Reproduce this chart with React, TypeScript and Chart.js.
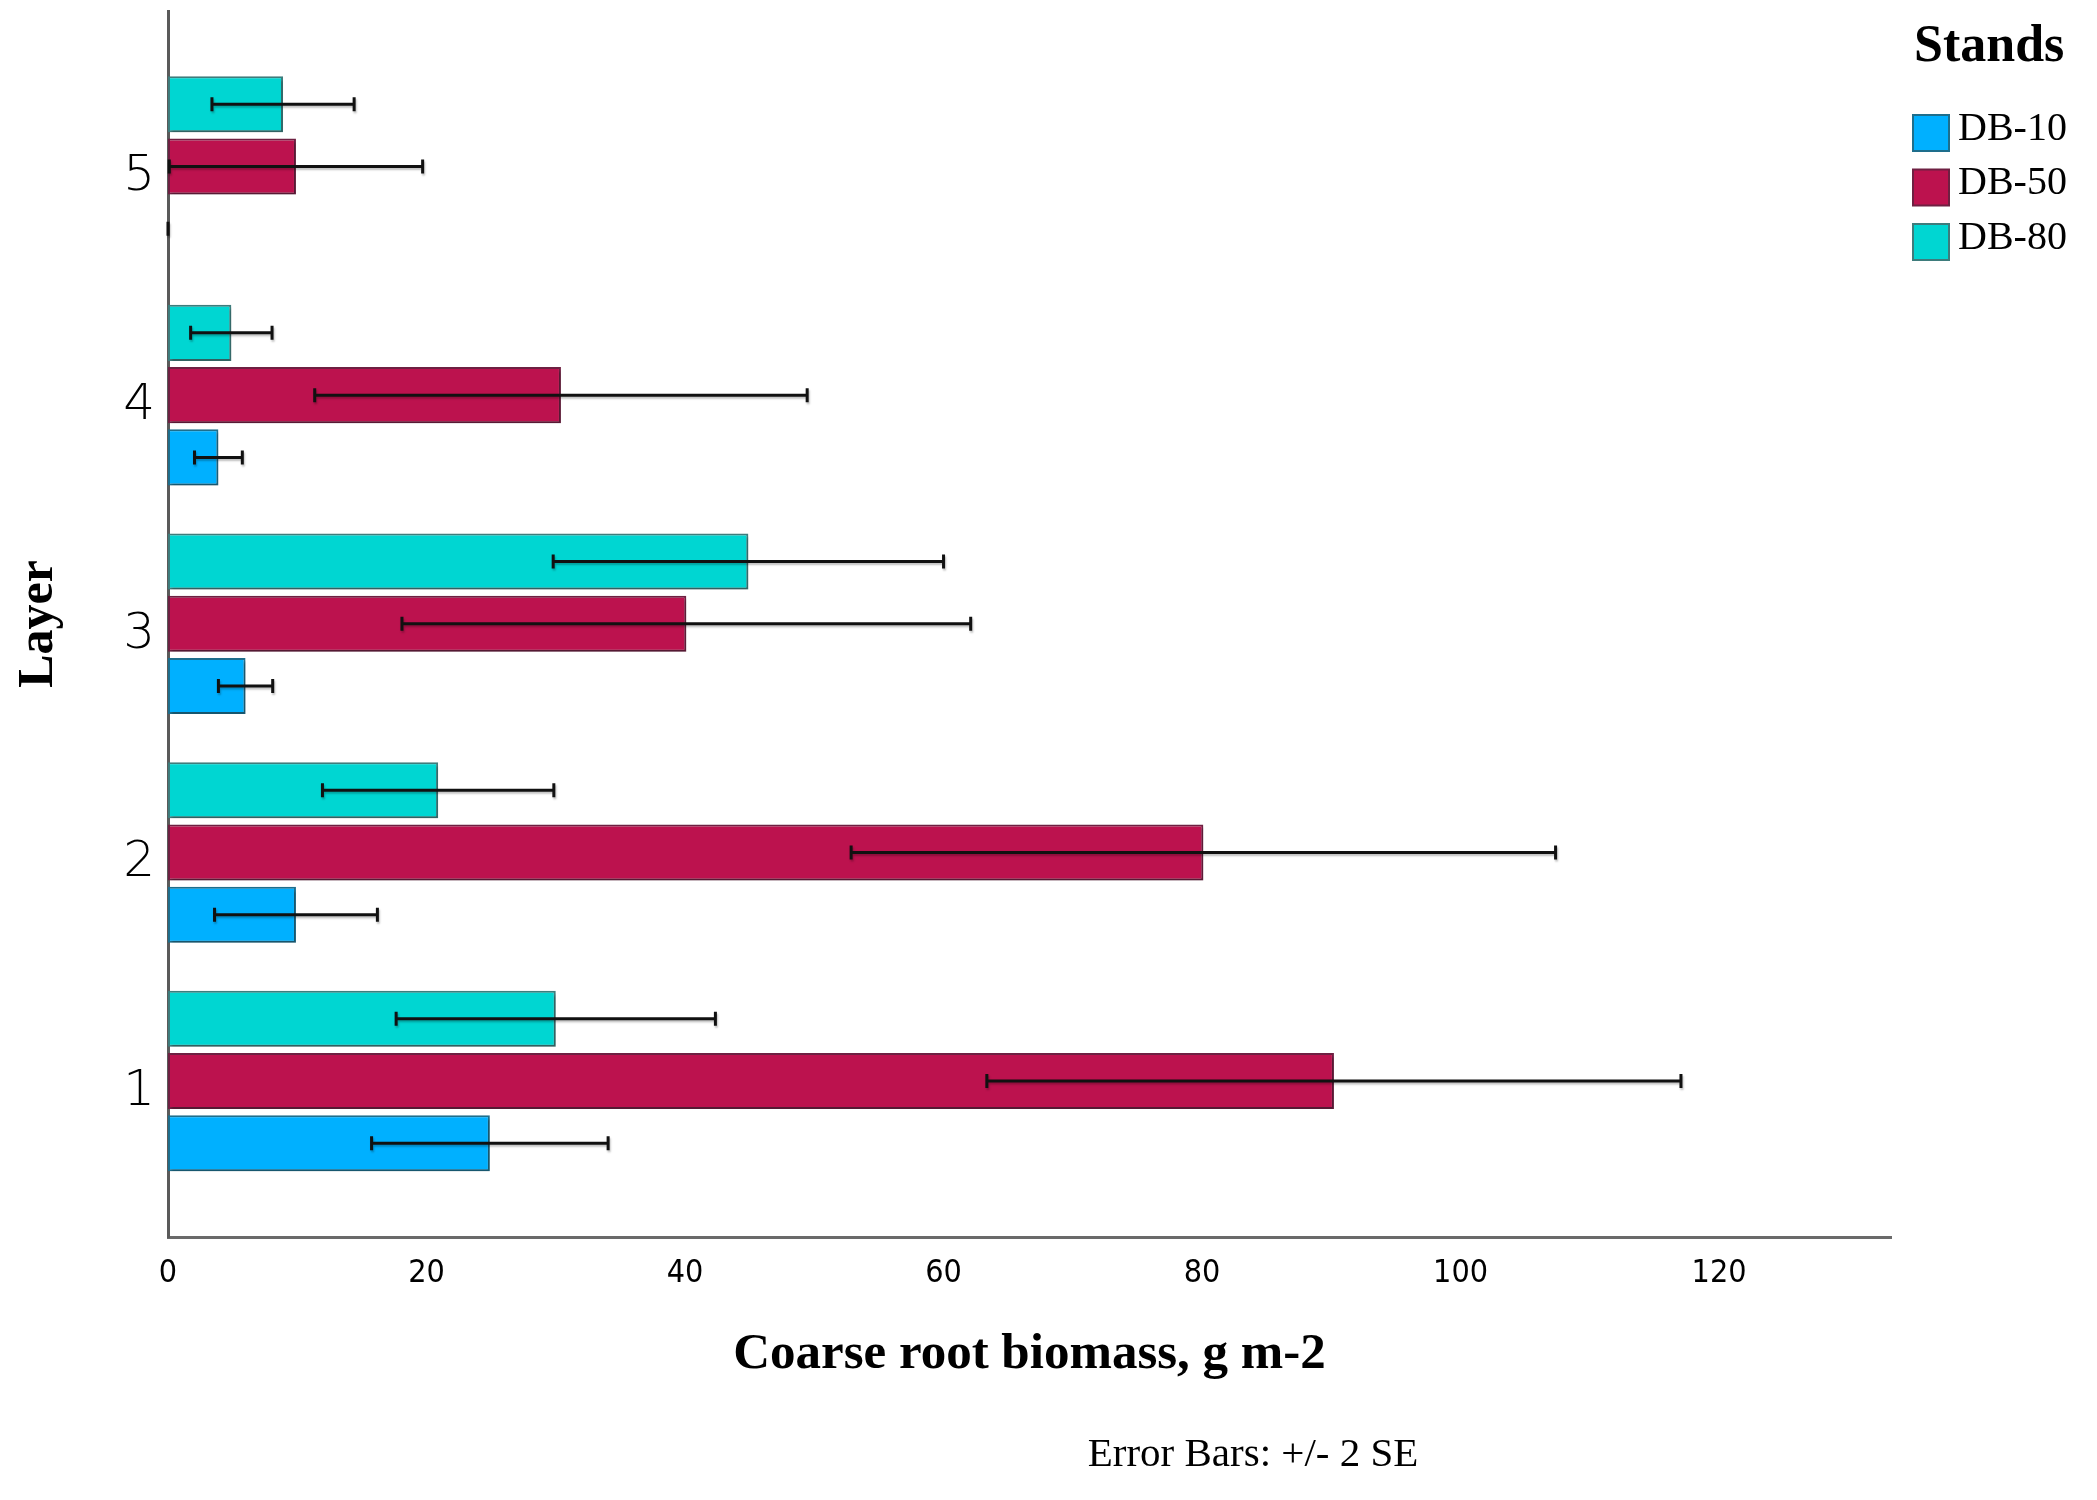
import React, { useEffect, useRef } from 'react';
import { Chart, registerables } from 'chart.js';

Chart.register(...registerables);

// ---- data ----
const layers = [1, 2, 3, 4, 5];
const layerLabels = ['1', '2', '3', '4', '5'];
const xTickValues = [0, 20, 40, 60, 80, 100, 120];
const xTickLabels = ['0', '20', '40', '60', '80', '100', '120'];

const db10Values = [24.9, 9.9, 6.0, 3.9, 0];
const db10Errors = [9.15, 6.3, 2.1, 1.85, 0];
const db50Values = [90.2, 80.1, 40.1, 30.4, 9.9];
const db50Errors = [26.85, 27.25, 22.0, 19.05, 9.8];
const db80Values = [30.0, 20.9, 44.9, 4.9, 8.9];
const db80Errors = [12.35, 8.95, 15.1, 3.15, 5.5];

const legendTitle = 'Stands';
const xTitle = 'Coarse root biomass, g m-2';
const yTitle = 'Layer';
const noteText = 'Error Bars: +/- 2 SE';

const SERIF = "'Liberation Serif', 'Times New Roman', serif";

export default function App() {
  const ref = useRef<HTMLCanvasElement>(null);

  useEffect(() => {
    const canvas = ref.current;
    if (!canvas) return;

    const series = [
      { name: 'DB-10', values: db10Values, errors: db10Errors, bg: '#00B0FF', border: '#1E6E8C' },
      { name: 'DB-50', values: db50Values, errors: db50Errors, bg: '#BC124E', border: '#6E2042' },
      { name: 'DB-80', values: db80Values, errors: db80Errors, bg: '#00D6D2', border: '#3E7C7C' },
    ];
    // top-to-bottom order within a group: DB-80, DB-50, DB-10
    const drawOrder = [series[2], series[1], series[0]];

    const shadowPlugin = {
      id: 'barShadow',
      beforeDatasetsDraw(chart: any) {
        const ctx = chart.ctx;
        ctx.save();
        ctx.shadowColor = 'rgba(0,0,0,0.22)';
        ctx.shadowOffsetX = 2;
        ctx.shadowOffsetY = 3;
        ctx.shadowBlur = 2;
      },
      afterDatasetsDraw(chart: any) {
        chart.ctx.restore();
      },
    };

    const errorBarPlugin = {
      id: 'errorBars',
      afterDatasetsDraw(chart: any) {
        const ctx = chart.ctx;
        const xs = chart.scales.x;
        ctx.save();
        ctx.strokeStyle = '#111111';
        ctx.lineWidth = 3;
        ctx.shadowColor = 'rgba(0,0,0,0.25)';
        ctx.shadowOffsetX = 1;
        ctx.shadowOffsetY = 2;
        ctx.shadowBlur = 2;
        chart.data.datasets.forEach((ds: any, di: number) => {
          const meta = chart.getDatasetMeta(di);
          meta.data.forEach((el: any, i: number) => {
            const v = ds.data[i].x;
            const e = ds.errorValues[i];
            const y = el.y;
            const x1 = xs.getPixelForValue(v - e);
            const x2 = xs.getPixelForValue(v + e);
            ctx.beginPath();
            ctx.moveTo(x1, y);
            ctx.lineTo(x2, y);
            ctx.moveTo(x1, y - 7);
            ctx.lineTo(x1, y + 7);
            ctx.moveTo(x2, y - 7);
            ctx.lineTo(x2, y + 7);
            ctx.stroke();
          });
        });
        ctx.restore();
      },
    };

    const legendPlugin = {
      id: 'customLegend',
      afterDraw(chart: any) {
        const ctx = chart.ctx;
        ctx.save();
        ctx.fillStyle = '#000';
        ctx.textBaseline = 'middle';
        ctx.textAlign = 'left';
        ctx.font = `bold 52px ${SERIF}`;
        ctx.fillText(legendTitle, 1914, 48);
        series.forEach((s, i) => {
          const y = 114 + i * 54.5;
          ctx.fillStyle = s.border;
          ctx.fillRect(1912, y, 38, 38);
          ctx.fillStyle = s.bg;
          ctx.fillRect(1914, y + 2, 34, 34);
          ctx.fillStyle = '#000';
          ctx.font = `40px ${SERIF}`;
          ctx.fillText(s.name, 1958, y + 15);
        });
        // note
        ctx.textAlign = 'center';
        ctx.font = `41px ${SERIF}`;
        ctx.fillText(noteText, 1253, 1455);
        ctx.restore();
      },
    };

    const chart = new Chart(canvas, {
      type: 'bar',
      data: {
        datasets: drawOrder.map((s) => ({
          label: s.name,
          data: s.values.map((v, i) => ({ x: v, y: layers[i] })),
          errorValues: s.errors,
          backgroundColor: s.bg,
          borderColor: s.border,
          borderWidth: 2,
          borderSkipped: false,
          categoryPercentage: 0.817,
          barPercentage: 0.9,
        })) as any,
      },
      options: {
        indexAxis: 'y',
        animation: false,
        responsive: false,
        devicePixelRatio: 1,
        layout: { padding: { top: 11, right: 206, bottom: 0, left: 0 } },
        plugins: {
          legend: { display: false },
          tooltip: { enabled: false },
        },
        scales: {
          x: {
            type: 'linear',
            min: 0,
            max: 133.3,
            offset: false,
            grid: { display: false, drawTicks: false },
            border: { display: true, color: '#6a6a6a', width: 3 },
            afterBuildTicks: (scale: any) => {
              scale.ticks = xTickValues.map((v) => ({ value: v }));
            },
            afterFit: (scale: any) => {
              scale.height = 263;
              scale.paddingLeft = 0;
              scale.paddingRight = 0;
            },
            ticks: {
              padding: 17,
              color: '#000',
              maxRotation: 0,
              autoSkip: false,
              font: { family: "'Liberation Sans Narrow', 'DejaVu Sans Condensed', sans-serif", size: 32 },
              callback: (value: any) => xTickLabels[xTickValues.indexOf(Number(value))] ?? '',
            },
            title: {
              display: true,
              text: xTitle,
              color: '#000',
              font: { family: SERIF, size: 51, weight: 'bold' },
              padding: { top: 0, bottom: 115 },
            },
          },
          y: {
            type: 'linear',
            min: 0.318,
            max: 5.68,
            offset: false,
            grid: { display: false, drawTicks: false },
            border: { display: true, color: '#5a5a5a', width: 3 },
            afterBuildTicks: (scale: any) => {
              scale.ticks = layers.map((v) => ({ value: v }));
            },
            afterFit: (scale: any) => {
              scale.width = 168;
              scale.paddingTop = 0;
              scale.paddingBottom = 0;
            },
            ticks: {
              padding: 13,
              color: '#000',
              autoSkip: false,
              labelOffset: 11,
              font: { family: "'DejaVu Sans', sans-serif", size: 50, weight: '200' as any },
              callback: (value: any) => layerLabels[layers.indexOf(Number(value))] ?? '',
            },
            title: {
              display: true,
              text: yTitle,
              color: '#000',
              font: { family: SERIF, size: 50, weight: 'bold' },
              padding: { top: 9, bottom: 0 },
            },
          },
        },
      } as any,
      plugins: [shadowPlugin, errorBarPlugin, legendPlugin],
    });

    return () => {
      chart.destroy();
    };
  }, []);

  return (
    <div style={{ position: 'absolute', left: 0, top: 0, width: 2097, height: 1500, background: '#fff' }}>
      <canvas ref={ref} width={2097} height={1500} style={{ display: 'block', width: 2097, height: 1500 }} />
    </div>
  );
}
